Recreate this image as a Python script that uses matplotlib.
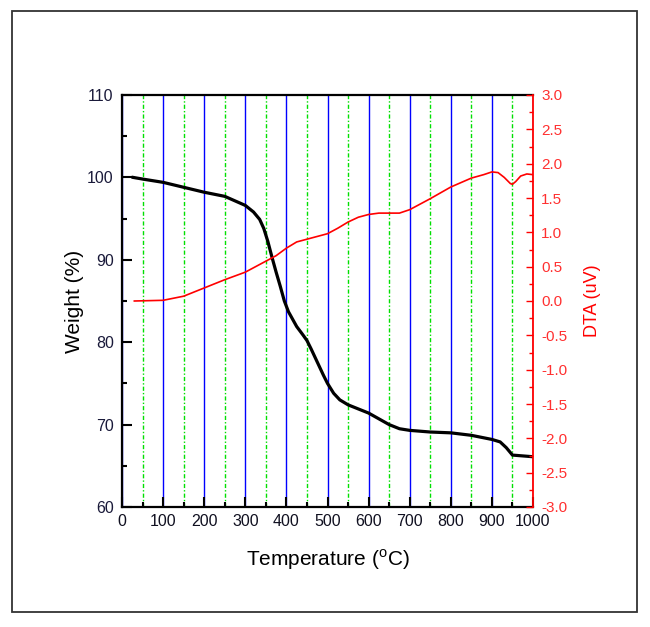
import matplotlib
matplotlib.use("Agg")
import matplotlib.pyplot as plt
from matplotlib.patches import Rectangle
from matplotlib.ticker import MultipleLocator

plt.rcParams['font.family'] = ['Liberation Sans', 'DejaVu Sans']
plt.rcParams['mathtext.fontset'] = 'custom'
plt.rcParams['mathtext.rm'] = 'Liberation Sans'

# Weight (TGA) curve
temp_w = [27, 50, 100, 150, 200, 250, 300, 320, 335, 345, 355, 365, 375, 385, 395,
          405, 415, 425, 440, 450, 460, 475, 490, 500, 515, 530, 550, 575, 600,
          625, 650, 675, 700, 750, 800, 850, 900, 920, 935, 950, 1000]
weight = [100.0, 99.8, 99.4, 98.8, 98.2, 97.7, 96.6, 95.8, 94.9, 93.8, 92.2, 90.3, 88.5,
          86.8, 85.0, 83.7, 82.8, 81.9, 80.9, 80.2, 79.2, 77.6, 76.0, 75.0, 73.8, 73.0,
          72.4, 71.9, 71.4, 70.7, 70.0, 69.5, 69.3, 69.1, 69.0, 68.7, 68.2, 67.9, 67.2,
          66.3, 66.1]

# DTA curve
temp_d = [30, 100, 150, 200, 250, 300, 350, 375, 400, 425, 450, 475, 500, 525, 550,
          575, 600, 625, 650, 675, 700, 750, 800, 850, 880, 900, 915, 930, 945, 950,
          958, 970, 985, 1000]
dta = [0.0, 0.01, 0.07, 0.19, 0.31, 0.42, 0.58, 0.66, 0.77, 0.86, 0.90, 0.94, 0.98,
       1.06, 1.15, 1.22, 1.26, 1.28, 1.28, 1.28, 1.33, 1.49, 1.66, 1.79, 1.84, 1.88,
       1.87, 1.80, 1.71, 1.70, 1.74, 1.82, 1.85, 1.84]

x_ticks = list(range(0, 1001, 100))
w_ticks = list(range(60, 111, 10))
d_ticks = [-3.0, -2.5, -2.0, -1.5, -1.0, -0.5, 0.0, 0.5, 1.0, 1.5, 2.0, 2.5, 3.0]

W, H = 650, 627
fig = plt.figure(figsize=(W / 100, H / 100), dpi=100)

# outer frame
fig.patches.append(Rectangle((12 / W, 1 - 612 / H), (637 - 12) / W, (612 - 11) / H,
                             transform=fig.transFigure, fill=False,
                             edgecolor='#333333', linewidth=1.3))

ax1 = fig.add_axes([122 / W, 1 - 507 / H, (533 - 122) / W, (507 - 95) / H])
ax2 = ax1.twinx()

ax1.set_xlim(0, 1000)
ax1.set_ylim(60, 110)
ax2.set_ylim(-3.0, 3.0)

# grid lines
ax1.xaxis.set_major_locator(MultipleLocator(100))
ax1.xaxis.set_minor_locator(MultipleLocator(50))
ax1.grid(True, which='major', axis='x', color='#0000ff', linewidth=1.0, linestyle='-')
ax1.grid(True, which='minor', axis='x', color='#00e000', linewidth=1.0,
         linestyle=(0, (3, 1.5, 1, 1.5)))
ax1.set_axisbelow(True)

ax1.plot(temp_w, weight, color='black', linewidth=2.3, zorder=3)
ax2.plot(temp_d, dta, color='#ff0000', linewidth=1.2, zorder=3)

# left axis
ax1.set_yticks(w_ticks)
ax1.yaxis.set_minor_locator(MultipleLocator(5))
ax1.set_xticks(x_ticks)
ax1.tick_params(axis='both', which='major', direction='in', length=7, width=1.5,
                labelsize=11.5, pad=6, colors='black')
ax1.tick_params(axis='both', which='minor', direction='in', length=3.5, width=1.5)
ax1.tick_params(axis='y', labelcolor='#1a1a3a')
ax1.tick_params(axis='x', labelcolor='#101020', pad=5)

for s in ['left', 'bottom', 'top']:
    ax1.spines[s].set_linewidth(1.6)
ax1.spines['right'].set_visible(False)

# right axis
ax2.set_yticks(d_ticks)
ax2.set_yticklabels([f"{v:.1f}" for v in d_ticks])
ax2.yaxis.set_minor_locator(MultipleLocator(0.25))
ax2.tick_params(axis='y', which='major', direction='in', length=5, width=1.0,
                color='#ff0000', labelcolor='#ff3030', labelsize=11, pad=6)
ax2.tick_params(axis='y', which='minor', direction='in', length=3, width=1.0,
                color='#ff0000')
ax2.spines['right'].set_color('#ff0000')
ax2.spines['right'].set_linewidth(1.3)
for s in ['left', 'bottom', 'top']:
    ax2.spines[s].set_visible(False)

ax1.set_xlabel(r'Temperature ($^{\rm o}$C)', fontsize=15, labelpad=13)
ax1.set_ylabel('Weight (%)', fontsize=15, labelpad=2)
ax2.set_ylabel('DTA (uV)', fontsize=13, color='#ff0000', labelpad=12)

fig.savefig('out.png', dpi=100)
